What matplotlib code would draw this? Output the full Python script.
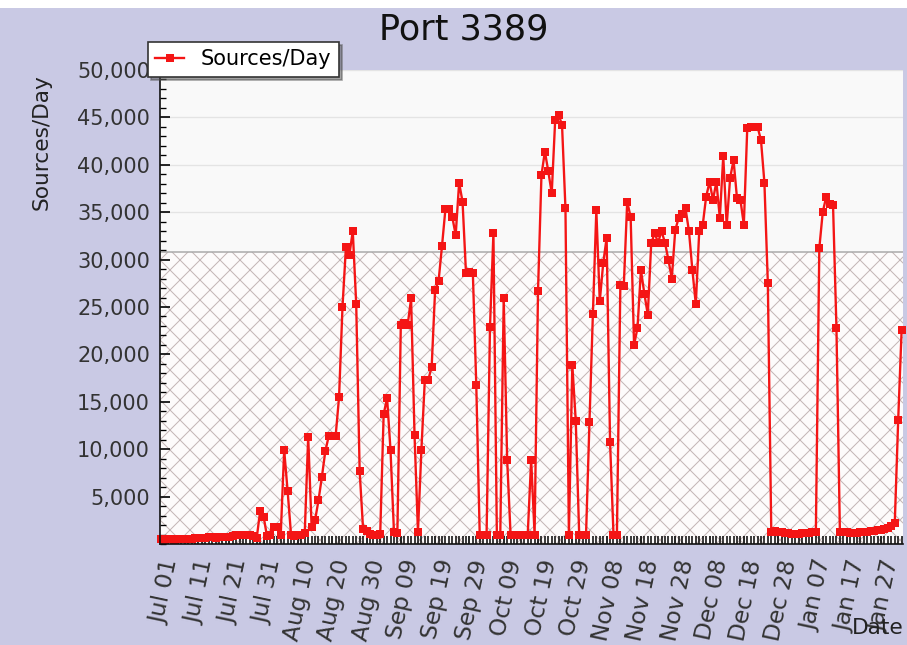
import matplotlib
matplotlib.use('Agg')
import matplotlib.pyplot as plt
from matplotlib.ticker import MultipleLocator
from matplotlib.patches import Rectangle
import numpy as np

title = "Port 3389"
series_name = "Sources/Day"
y_label = "Sources/Day"
x_label = "Date"

sources_per_day = [
    480, 450, 500, 520, 470, 530, 510, 490, 560, 540,
    620, 640, 600, 660, 700, 690, 660, 720, 740, 720,
    780, 850, 900, 950, 1000, 950, 900, 800, 650,
    3500, 2900, 800, 900, 1800, 1800, 1000, 9900, 5600, 1000, 800, 900, 1000, 1200,
    11300, 1800, 2500, 4600, 7100, 9800, 11400, 11400, 11400, 15500,
    25000, 31300, 30500, 33000, 25300, 7700, 1600, 1400, 1100, 1000,
    1000, 1100, 13700, 15400, 9900, 1300, 1200, 23100, 23300, 23100,
    25900, 11500, 1300, 9900, 17300, 17300, 18700, 26800, 27700, 31400,
    35300, 35300, 34500, 32600, 38100, 36100, 28600, 28700, 28600, 16800,
    1000, 1000, 900, 22900, 32800, 1000, 1000, 25900, 8900, 1000,
    1000, 1000, 1000, 1000, 1000, 8900, 1000, 26700, 38900, 41400,
    39300, 37000, 44700, 45300, 44200, 35400, 1000, 18900, 13000, 1000,
    1000, 1000, 12900, 24300, 35200, 25600, 29600, 32300, 10800, 1000,
    1000, 27300, 27200, 36100, 34500, 21000, 22800, 28900, 26400, 24200,
    31700, 32800, 31800, 33000, 31800, 30000, 28000, 33100, 34400, 34800,
    35400, 33000, 28900, 25300, 33000, 33600, 36600, 38200, 36300, 38200,
    34400, 40900, 33600, 38600, 40500, 36500, 36300, 33700, 43900, 44000,
    44000, 44000, 42600, 38100, 27500,
    1300, 1400, 1300, 1250, 1200, 1150, 1100, 1100, 1100, 1150, 1200, 1200, 1250, 1300,
    31200, 35000, 36600, 35900, 35800, 22800,
    1300, 1300, 1250, 1200, 1200, 1200, 1250, 1300, 1300, 1350, 1400, 1450, 1500, 1600, 1700, 1900,
    2200, 13100, 22600,
]

x_tick_labels = ['Jul 01', 'Jul 11', 'Jul 21', 'Jul 31', 'Aug 10', 'Aug 20', 'Aug 30',
                 'Sep 09', 'Sep 19', 'Sep 29', 'Oct 09', 'Oct 19', 'Oct 29', 'Nov 08',
                 'Nov 18', 'Nov 28', 'Dec 08', 'Dec 18', 'Dec 28', 'Jan 07', 'Jan 17', 'Jan 27']
x_tick_days = [10 * i for i in range(len(x_tick_labels))]
y_ticks = [5000, 10000, 15000, 20000, 25000, 30000, 35000, 40000, 45000, 50000]
threshold = 30800

W, H, DPI = 907, 645, 120
plt.rcParams['hatch.linewidth'] = 0.6
fig = plt.figure(figsize=(W / DPI, H / DPI), dpi=DPI, facecolor='#c9c9e4')
fig.patches.append(Rectangle((0, 1 - 8 / H), 1, 8 / H, transform=fig.transFigure,
                             facecolor='white', edgecolor='none', zorder=0))

ax = fig.add_axes([160 / W, 1 - 544 / H, 743 / W, 474 / H])
ax.set_facecolor('#f9f9f9')
days = np.arange(len(sources_per_day))
ax.set_xlim(-0.2, days[-1] + 0.4)
ax.set_ylim(0, 50000)

for yv in y_ticks:
    ax.axhline(yv, color='#e4e4e4', lw=0.8, zorder=0.5)
ax.axhspan(0, threshold, facecolor='#fdfbfb', edgecolor='#c4b6b6', hatch='xx', linewidth=0, zorder=1)
ax.axhline(threshold, color='#a8a8a8', lw=0.9, zorder=1.5)

ax.plot(days, sources_per_day, color='#f41515', lw=1.4, marker='s', ms=5.2,
        markeredgewidth=0, zorder=3, label=series_name, clip_on=False)

for s in ['top', 'right']:
    ax.spines[s].set_visible(False)
for s in ['left', 'bottom']:
    ax.spines[s].set_color('#111111')
    ax.spines[s].set_linewidth(1.0)
    ax.spines[s].set_zorder(4)

ax.set_yticks(y_ticks)
ax.set_yticklabels([f'{v:,}' for v in y_ticks])
ax.yaxis.set_minor_locator(MultipleLocator(1000))
ax.tick_params(axis='y', which='major', direction='in', length=6, width=1.0,
               labelsize=12.5, labelcolor='#333333', pad=6)
ax.tick_params(axis='y', which='minor', direction='in', length=3.5, width=0.8)

ax.set_xticks(x_tick_days)
ax.set_xticklabels(x_tick_labels, rotation=78, ha='right', va='top', rotation_mode='anchor')
ax.xaxis.set_minor_locator(MultipleLocator(1))
ax.tick_params(axis='x', which='major', direction='in', length=5, width=1.0, color='#000000',
               labelsize=14, labelcolor='#333333', pad=8)
ax.tick_params(axis='x', which='minor', direction='in', length=5, width=0.9, color='#000000')

fig.text(464 / W, 1 - 30 / H, title, ha='center', va='center', fontsize=21, color='#111111')
fig.text(42 / W, 1 - 74 / H, y_label, rotation=90, ha='center', va='top', fontsize=13, color='#222222')
fig.text(904 / W, 1 - 628 / H, x_label, ha='right', va='center', fontsize=13, color='#222222')

leg = ax.legend(loc='upper left', bbox_to_anchor=(148 / W, 1 - 42 / H), bbox_transform=fig.transFigure,
                frameon=True, fancybox=False, shadow=True, fontsize=12.5, borderpad=0.35,
                handlelength=1.4, handletextpad=0.8, borderaxespad=0)
leg.get_frame().set_edgecolor('#333333')
leg.get_frame().set_linewidth(1.0)
leg.set_zorder(10)

fig.savefig('out.png', dpi=DPI, facecolor=fig.get_facecolor())
